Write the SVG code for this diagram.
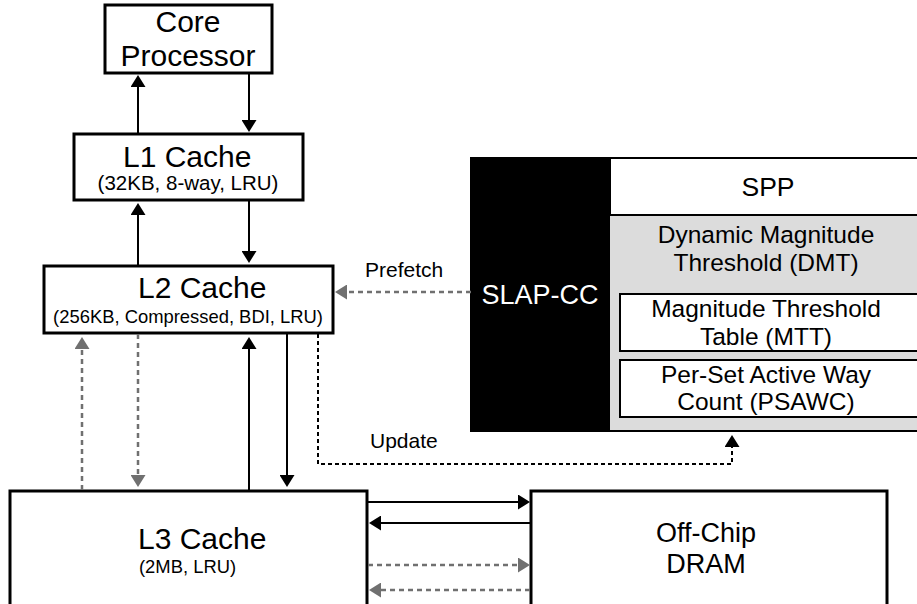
<svg xmlns="http://www.w3.org/2000/svg" width="917" height="604" viewBox="0 0 917 604">
<style>
text{font-family:"Liberation Sans",Arial,sans-serif;fill:#000}
.box{fill:#fff;stroke:#000;stroke-width:3}
.c{text-anchor:middle}
.t{font-size:30px}
.s{font-size:18.4px}
.p{font-size:24.5px}
.lbl{font-size:21px}
.solid{stroke:#000;stroke-width:2;fill:none}
.gray{stroke:#707070;stroke-width:2.5;fill:none;stroke-dasharray:5,4}
.dot{stroke:#000;stroke-width:2;fill:none;stroke-dasharray:4,3}
</style>
<defs>
<marker id="ab" markerUnits="userSpaceOnUse" markerWidth="13" markerHeight="15" refX="1" refY="7.5" orient="auto"><path d="M0,0 L12,7.5 L0,15 z" fill="#000"/></marker>
<marker id="ag" markerUnits="userSpaceOnUse" markerWidth="13" markerHeight="15" refX="1" refY="7.5" orient="auto"><path d="M0,0 L12,7.5 L0,15 z" fill="#707070"/></marker>
</defs>

<g id="core">
<rect class="box" x="105" y="5" width="167" height="68"/>
<text class="t c" x="188" y="32">Core</text>
<text class="t c" x="188" y="66">Processor</text>
</g>

<g id="l1">
<rect class="box" x="74" y="134" width="229" height="66"/>
<text class="t" x="123" y="167">L1 Cache</text>
<text class="c" x="188" y="190" style="font-size:20.5px">(32KB, 8-way, LRU)</text>
</g>

<g id="l2">
<rect class="box" x="44" y="266" width="289" height="67"/>
<text class="t" x="138" y="298">L2 Cache</text>
<text class="s c" x="188" y="323">(256KB, Compressed, BDI, LRU)</text>
</g>

<g id="l3">
<rect class="box" x="10" y="491" width="357" height="130"/>
<text class="t" x="138" y="549">L3 Cache</text>
<text class="s" x="139" y="573">(2MB, LRU)</text>
</g>

<g id="dram">
<rect class="box" x="531" y="491" width="356" height="130"/>
<text class="c" x="706" y="542" style="font-size:27px">Off-Chip</text>
<text class="c" x="706" y="573" style="font-size:27px">DRAM</text>
</g>

<g id="slapcc">
<rect x="471" y="158" width="460" height="273" fill="#dcdcdc" stroke="#000" stroke-width="2"/>
<rect x="610" y="158" width="321" height="57" fill="#fff" stroke="#000" stroke-width="2"/>
<rect x="471" y="158" width="139" height="274" fill="#000"/>
<text class="c" x="540" y="304" style="font-size:27px;fill:#fff">SLAP-CC</text>
<text class="c" x="768" y="196" style="font-size:26.5px">SPP</text>
<text class="p c" x="766" y="243">Dynamic Magnitude</text>
<text class="p c" x="766" y="271">Threshold (DMT)</text>
<rect x="620" y="294" width="311" height="57" fill="#fff" stroke="#000" stroke-width="2"/>
<text class="p c" x="766" y="317">Magnitude Threshold</text>
<text class="p c" x="766" y="345">Table (MTT)</text>
<rect x="620" y="360" width="311" height="57" fill="#fff" stroke="#000" stroke-width="2"/>
<text class="p c" x="766" y="383">Per-Set Active Way</text>
<text class="p c" x="766" y="410">Count (PSAWC)</text>
</g>

<g id="connectors">
<line class="solid" x1="138" y1="134" x2="138" y2="86" marker-end="url(#ab)"/>
<line class="solid" x1="249" y1="73" x2="249" y2="121" marker-end="url(#ab)"/>
<line class="solid" x1="138" y1="266" x2="138" y2="214" marker-end="url(#ab)"/>
<line class="solid" x1="249" y1="200" x2="249" y2="252" marker-end="url(#ab)"/>
<line class="gray" x1="82" y1="490" x2="82" y2="348" marker-end="url(#ag)"/>
<line class="gray" x1="138" y1="334" x2="138" y2="476" marker-end="url(#ag)"/>
<line class="solid" x1="249" y1="490" x2="249" y2="348" marker-end="url(#ab)"/>
<line class="solid" x1="287" y1="334" x2="287" y2="476" marker-end="url(#ab)"/>
<path class="dot" d="M318,334 V464 H732 V446" marker-end="url(#ab)"/>
<line class="gray" x1="471" y1="292" x2="346" y2="292" marker-end="url(#ag)"/>
<line class="solid" x1="368" y1="502" x2="519" y2="502" marker-end="url(#ab)"/>
<line class="solid" x1="530" y1="523" x2="380" y2="523" marker-end="url(#ab)"/>
<line class="gray" x1="368" y1="565" x2="519" y2="565" marker-end="url(#ag)"/>
<line class="gray" x1="530" y1="590" x2="380" y2="590" marker-end="url(#ag)"/>
<text class="lbl" x="365" y="277">Prefetch</text>
<text class="lbl" x="370" y="448">Update</text>
</g>
</svg>
